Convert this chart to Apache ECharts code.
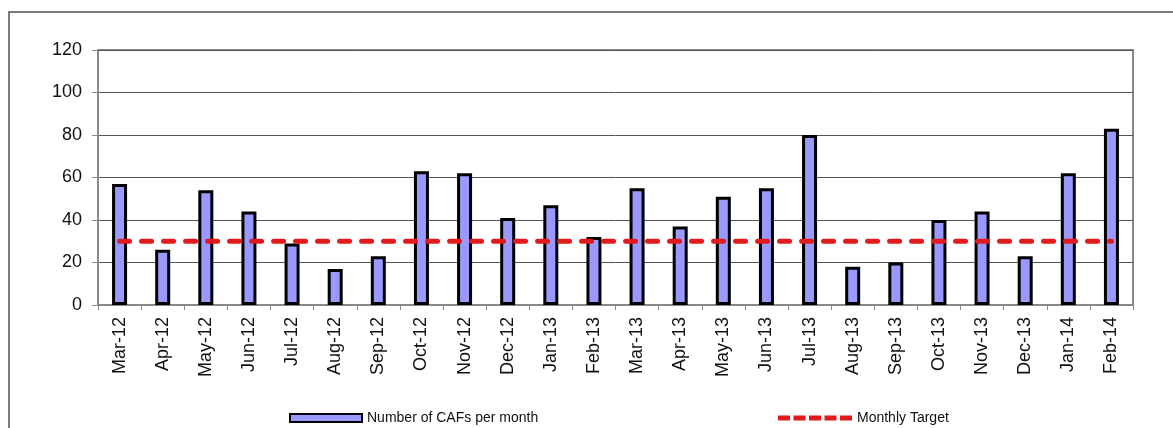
<!DOCTYPE html>
<html>
<head>
<meta charset="utf-8">
<script src="https://cdn.jsdelivr.net/npm/echarts@6/dist/echarts.min.js"></script>
<style>
  html, body { margin: 0; padding: 0; background: #fff; }
  #chart { width: 1173px; height: 428px; }
  .frame { position: absolute; left: 8px; top: 11px; width: 1200px; height: 450px;
           border-left: 2px solid #7a7a7a; border-top: 2px solid #7a7a7a; pointer-events: none; }
</style>
</head>
<body>
<div id="chart"></div>
<div class="frame"></div>
<script>
// 月份
const months = ['Mar-12', 'Apr-12', 'May-12', 'Jun-12', 'Jul-12', 'Aug-12', 'Sep-12', 'Oct-12',
  'Nov-12', 'Dec-12', 'Jan-13', 'Feb-13', 'Mar-13', 'Apr-13', 'May-13', 'Jun-13', 'Jul-13',
  'Aug-13', 'Sep-13', 'Oct-13', 'Nov-13', 'Dec-13', 'Jan-14', 'Feb-14'];
// 每月CAF数量
const cafCounts = [57, 26, 54, 44, 29, 17, 23, 63, 62, 41, 47, 32, 55, 37, 51, 55, 80, 18, 20, 40, 44, 23, 62, 83];
// 月度目标
const monthlyTarget = [30, 30, 30, 30, 30, 30, 30, 30, 30, 30, 30, 30, 30, 30, 30, 30, 30, 30, 30, 30, 30, 30, 30, 30];

const font = 'Liberation Sans, Arial, sans-serif';
const red = '#e31a1c';
// 图例里的虚线图标
const dashIcon = 'path://M0,0h12v5h-12z M15.5,0h12v5h-12z M31,0h12v5h-12z M46.5,0h12v5h-12z M62,0h12v5h-12z';

const chart = echarts.init(document.getElementById('chart'));

chart.setOption({
  backgroundColor: '#fff',
  animation: false,
  textStyle: { fontFamily: font },
  grid: {
    left: 98, top: 50, right: 40, bottom: 123,
    show: true, borderColor: '#888', borderWidth: 2
  },
  legend: [
    {
      data: [{ name: 'Number of CAFs per month', icon: 'rect' }],
      left: 284, top: 406,
      itemWidth: 72, itemHeight: 8,
      textStyle: { fontFamily: font, fontSize: 14, color: '#111' }
    },
    {
      data: [{
        name: 'Monthly Target',
        icon: dashIcon,
        itemStyle: { color: red, borderWidth: 0 },
        lineStyle: { width: 0 }
      }],
      left: 773, top: 406,
      itemWidth: 74, itemHeight: 5,
      textStyle: { fontFamily: font, fontSize: 14, color: '#111' }
    }
  ],
  xAxis: {
    type: 'category',
    data: months,
    axisLine: { lineStyle: { color: '#888', width: 2 } },
    axisTick: { show: true, length: 5, lineStyle: { color: '#888', width: 1 } },
    axisLabel: { rotate: 90, fontSize: 18, color: '#111', margin: 12, fontFamily: font }
  },
  yAxis: {
    type: 'value',
    min: 0, max: 120, interval: 20,
    axisLine: { show: true, lineStyle: { color: '#888', width: 2 } },
    axisTick: { show: true, length: 6, lineStyle: { color: '#888', width: 1 } },
    axisLabel: { fontSize: 18, color: '#111', margin: 16, fontFamily: font },
    splitLine: { lineStyle: { color: '#555', width: 1 } }
  },
  series: [
    {
      name: 'Number of CAFs per month',
      type: 'bar',
      data: cafCounts,
      barWidth: 15,
      itemStyle: { color: '#9999ff', borderColor: '#000', borderWidth: 3 }
    },
    {
      name: 'Monthly Target',
      type: 'line',
      data: monthlyTarget,
      symbol: 'none',
      z: 5,
      lineStyle: { color: red, width: 5, type: [10, 12], cap: 'round' },
      itemStyle: { color: red }
    }
  ]
});
</script>
</body>
</html>
